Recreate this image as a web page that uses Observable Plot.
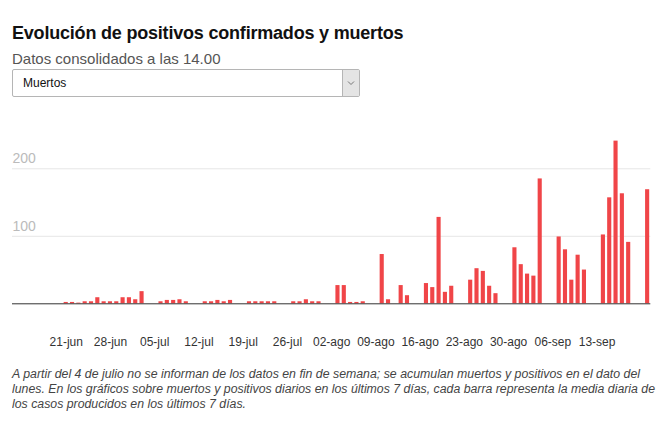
<!DOCTYPE html>
<html>
<head>
<meta charset="utf-8">
<script src="https://cdn.jsdelivr.net/npm/d3@7"></script>
<script src="https://cdn.jsdelivr.net/npm/@observablehq/plot@0.6"></script>
<style>
  html, body { margin: 0; padding: 0; background: #fff; }
  body { width: 668px; height: 425px; position: relative; overflow: hidden; font-family: "Liberation Sans", Arial, sans-serif; }
  #title { position: absolute; left: 12px; top: 21.5px; font-size: 18px; line-height: 22px; font-weight: bold; color: #111; white-space: nowrap; letter-spacing: -0.2px; }
  #subtitle { position: absolute; left: 12px; top: 49.5px; font-size: 15px; line-height: 18px; color: #555; white-space: nowrap; }
  #select { position: absolute; left: 12px; top: 69px; width: 346px; height: 26px; border: 1px solid #b5b5b5; border-radius: 2px; box-sizing: content-box; }
  #select .lbl { position: absolute; left: 10px; top: 0; line-height: 26px; font-size: 12px; color: #111; }
  #select .arr { position: absolute; right: 0; top: 0; width: 16px; height: 26px; background: #e4e4e4; border-left: 1px solid #b5b5b5; }
  #chart { position: absolute; left: 0; top: 100px; }
  #caption { position: absolute; left: 12px; top: 366.5px; font-size: 12.5px; line-height: 15px; font-style: italic; color: #444; font-family: "Liberation Sans", Arial, sans-serif; }
  #caption .ln { display: block; white-space: nowrap; transform-origin: 0 50%; width: max-content; }
</style>
</head>
<body>
<div id="title">Evolución de positivos confirmados y muertos</div>
<div id="subtitle">Datos consolidados a las 14.00</div>
<div id="select"><span class="lbl">Muertos</span><span class="arr"><svg width="16" height="26"><path d="M5 11.5 L8 14.5 L11 11.5" fill="none" stroke="#777" stroke-width="1"/></svg></span></div>
<div id="chart"></div>
<div id="caption"><span class="ln" data-w="628">A partir del 4 de julio no se informan de los datos en fin de semana; se acumulan muertos y positivos en el dato del</span><span class="ln" data-w="643">lunes. En los gráficos sobre muertos y positivos diarios en los últimos 7 días, cada barra representa la media diaria de</span><span class="ln" data-w="234">los casos producidos en los últimos 7 días.</span></div>
<script>
const dates = [
  "2020-06-21","2020-06-22","2020-06-23","2020-06-24","2020-06-25","2020-06-26","2020-06-27","2020-06-28","2020-06-29","2020-06-30",
  "2020-07-01","2020-07-02","2020-07-03","2020-07-06","2020-07-07","2020-07-08","2020-07-09","2020-07-10",
  "2020-07-13","2020-07-14","2020-07-15","2020-07-16","2020-07-17",
  "2020-07-20","2020-07-21","2020-07-22","2020-07-23","2020-07-24",
  "2020-07-27","2020-07-28","2020-07-29","2020-07-30","2020-07-31",
  "2020-08-03","2020-08-04","2020-08-05","2020-08-06","2020-08-07",
  "2020-08-10","2020-08-11","2020-08-13","2020-08-14",
  "2020-08-17","2020-08-18","2020-08-19","2020-08-20","2020-08-21",
  "2020-08-24","2020-08-25","2020-08-26","2020-08-27","2020-08-28",
  "2020-08-31","2020-09-01","2020-09-02","2020-09-03","2020-09-04",
  "2020-09-07","2020-09-08","2020-09-09","2020-09-10","2020-09-11",
  "2020-09-14","2020-09-15","2020-09-16","2020-09-17","2020-09-18",
  "2020-09-21"
];
const muertos = [
  2, 2, 1, 3, 3, 9, 3, 3, 3, 9,
  9, 6, 18, 3, 5, 5, 6, 3,
  3, 3, 5, 3, 5,
  3, 3, 3, 3, 3,
  3, 3, 6, 3, 3,
  27, 27, 2, 2, 3,
  73, 6, 27, 12,
  30, 24, 128, 17, 26,
  35, 52, 48, 26, 15,
  83, 58, 44, 41, 185,
  99, 80, 35, 72, 50,
  102, 157, 241, 163, 91,
  169
];
const tickDates = ["2020-06-21","2020-06-28","2020-07-05","2020-07-12","2020-07-19","2020-07-26","2020-08-02","2020-08-09","2020-08-16","2020-08-23","2020-08-30","2020-09-06","2020-09-13"];
const tickLabels = ["21-jun","28-jun","05-jul","12-jul","19-jul","26-jul","02-ago","09-ago","16-ago","23-ago","30-ago","06-sep","13-sep"];
const yTicks = [100, 200];

const fmt = d3.utcFormat("%Y-%m-%d");
const allDays = d3.utcDay.range(new Date("2020-06-13T00:00:00Z"), new Date("2020-09-22T00:00:00Z")).map(fmt);
const data = dates.map((d, i) => ({date: d, value: muertos[i]}));

const chart = Plot.plot({
  width: 668,
  height: 260,
  marginLeft: 12,
  marginRight: 17.7,
  marginTop: 34.55,
  marginBottom: 56.7,
  style: {fontFamily: "'Liberation Sans', Arial, sans-serif", fontSize: "12px", color: "#333", background: "transparent"},
  x: {type: "band", domain: allDays, padding: 0, ticks: tickDates, tickFormat: d => tickLabels[tickDates.indexOf(d)], tickSize: 0, tickPadding: 34, label: null},
  y: {domain: [0, 250], axis: null},
  marks: [
    Plot.ruleY(yTicks, {stroke: "#e6e6e6", strokeWidth: 1}),
    Plot.text(yTicks, {y: d => d, text: d => String(d), frameAnchor: "left", textAnchor: "start", dy: -10, fill: "#bbb", fontSize: 14}),
    Plot.barY(data, {x: "date", y: "value", fill: "#f04548", insetLeft: 1.1, insetRight: 1.1}),
    Plot.ruleY([0], {stroke: "#333", strokeWidth: 1})
  ]
});
document.getElementById("chart").appendChild(chart);

document.querySelectorAll("#caption .ln").forEach(el => {
  const w = el.getBoundingClientRect().width;
  const target = +el.dataset.w;
  if (w > 0) el.style.transform = `scaleX(${target / w})`;
});
</script>
</body>
</html>
